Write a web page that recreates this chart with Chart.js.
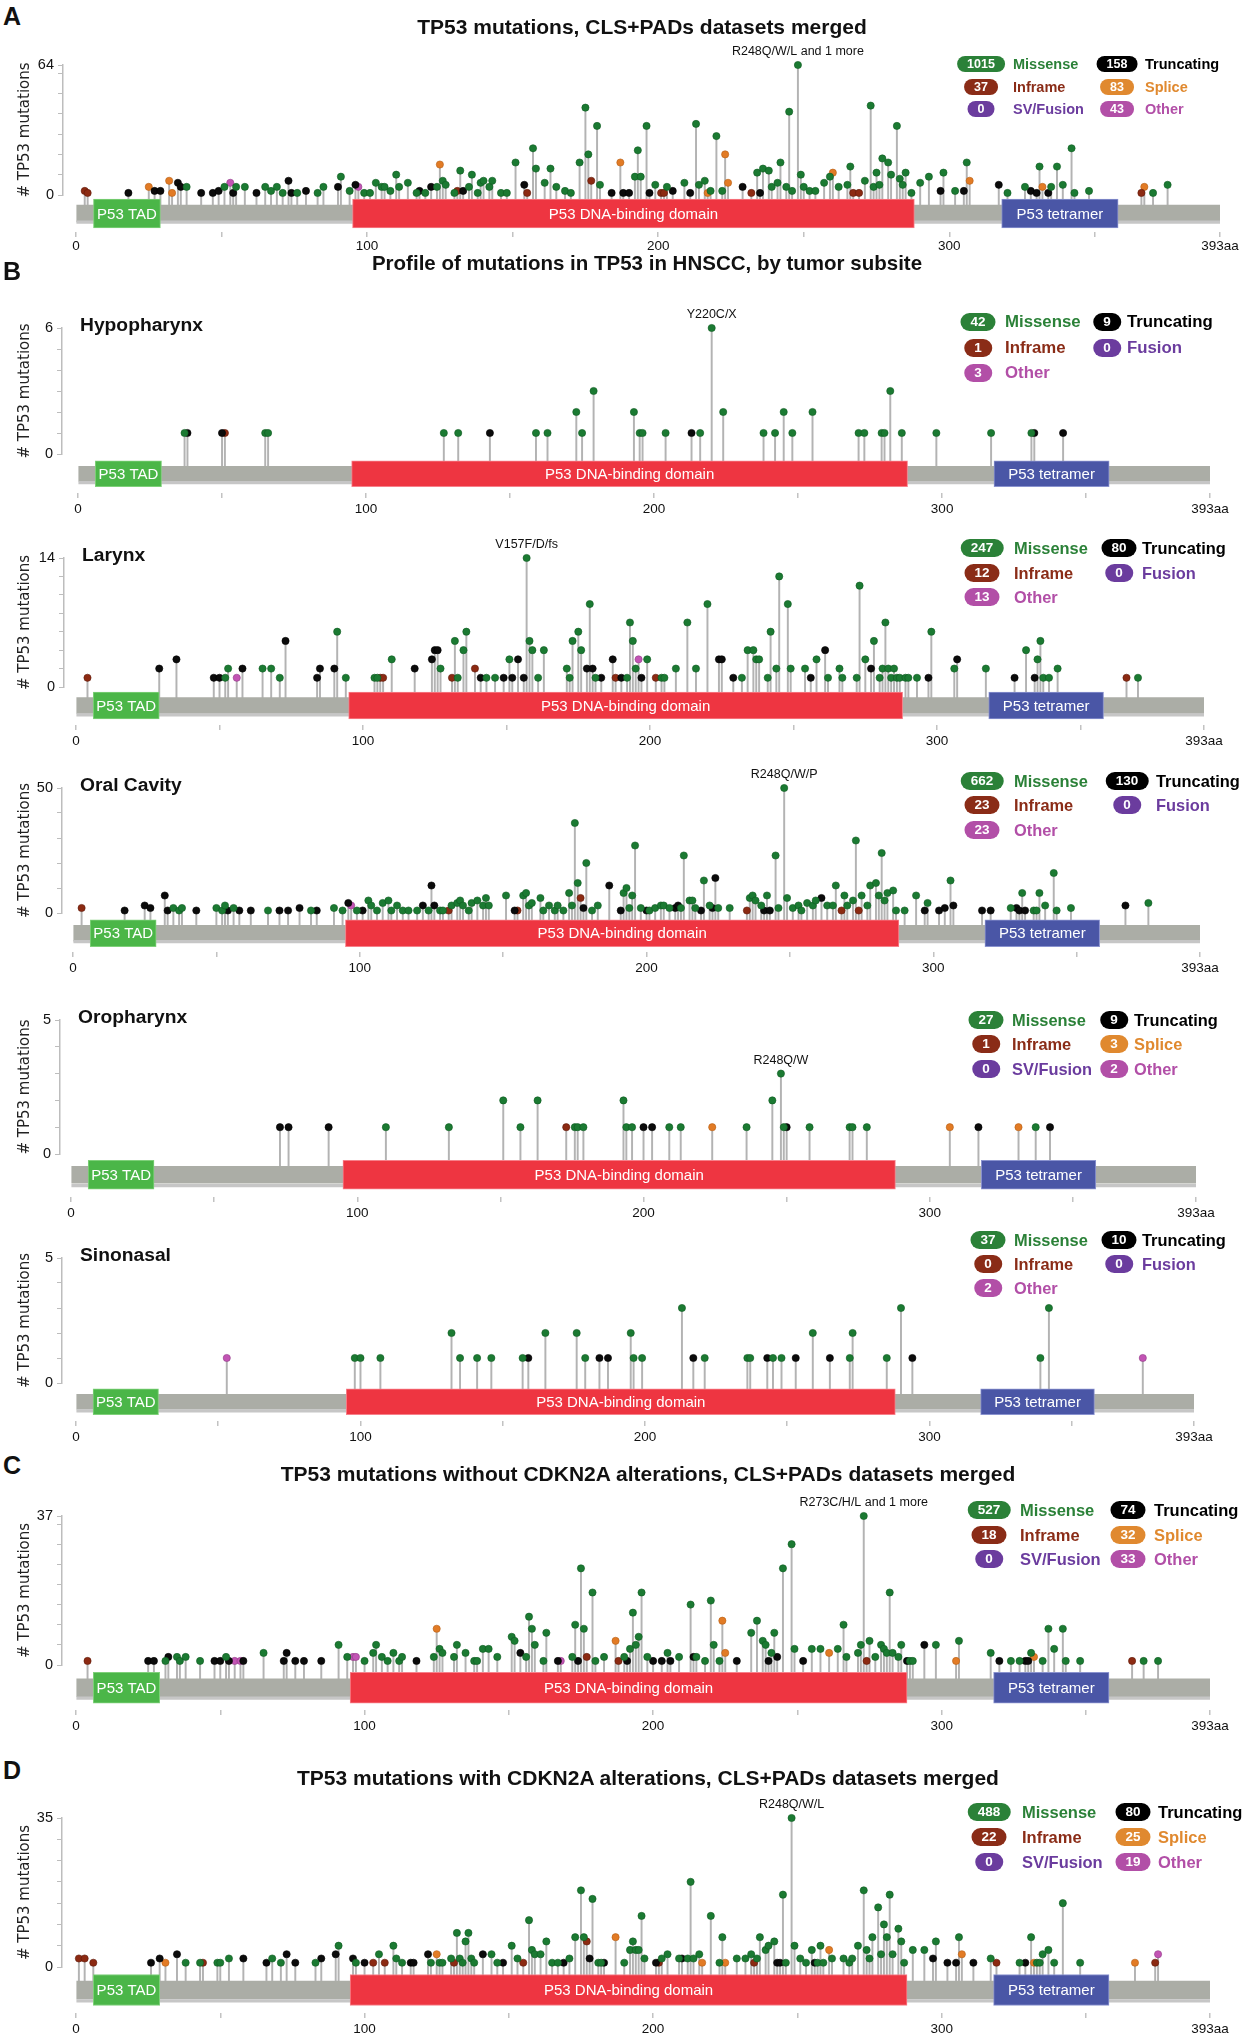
<!DOCTYPE html>
<html>
<head>
<meta charset="utf-8">
<script src="https://cdn.jsdelivr.net/npm/chart.js@4.4.1/dist/chart.umd.min.js"></script>
<style>
  html,body{margin:0;padding:0;background:#fff}
  #fig{position:relative;width:1251px;height:2040px;overflow:hidden;font-family:'Liberation Sans',Arial,Helvetica,sans-serif;color:#111}
  #fig canvas{position:absolute;left:0}
  .tx{position:absolute;white-space:nowrap;z-index:2;line-height:1}
  .pill{position:absolute;z-index:2;color:#fff;font-weight:700;border-radius:999px;text-align:center;transform:translate(-50%,-50%);box-sizing:border-box;padding:0 10px}
</style>
</head>
<body>
<div id="fig"></div>
<script>
// ---------- data ----------
// protein domains: name, start aa, end aa, fill, edge
const domains = [
  ['P53 TAD', 6, 29, '#4bb648', '#7fd07a'],
  ['P53 DNA-binding domain', 95, 288, '#ee3541', '#f7808a'],
  ['P53 tetramer', 318, 358, '#4a56a6', '#8a93cf']
];
const xTicks = [0, 50, 100, 150, 200, 250, 300, 350, 393];

// [position, count, type]  M missense, T truncating, I inframe, S splice, O other
const mutA = [[3,2,'I'],[4,1,'I'],[18,1,'T'],[25,4,'S'],[27,2,'T'],[29,2,'T'],[32,7,'S'],[33,1,'S'],[35,6,'T'],[36,4,'T'],[38,4,'M'],[43,1,'T'],[47,1,'T'],[49,2,'T'],[51,4,'M'],[53,6,'O'],[54,1,'T'],[55,4,'M'],[58,4,'M'],[62,1,'T'],[65,4,'M'],[67,2,'M'],[69,4,'M'],[71,1,'M'],[73,7,'T'],[74,1,'T'],[76,1,'M'],[79,2,'T'],[83,1,'M'],[85,4,'M'],[90,4,'T'],[91,9,'M'],[94,2,'M'],[96,5,'T'],[97,4,'O'],[99,1,'M'],[101,1,'M'],[103,6,'M'],[105,4,'M'],[106,4,'M'],[108,2,'M'],[110,10,'M'],[111,4,'M'],[114,6,'M'],[117,1,'M'],[118,2,'T'],[120,1,'M'],[122,4,'T'],[124,4,'M'],[125,15,'S'],[126,7,'M'],[127,5,'M'],[130,1,'M'],[131,2,'I'],[132,12,'M'],[133,2,'T'],[135,4,'M'],[136,10,'M'],[138,1,'M'],[139,6,'M'],[140,7,'M'],[142,4,'M'],[143,7,'M'],[146,1,'M'],[148,1,'M'],[151,16,'M'],[154,5,'T'],[155,1,'I'],[157,23,'M'],[158,13,'M'],[161,6,'M'],[163,13,'M'],[165,4,'M'],[168,2,'M'],[170,1,'M'],[173,16,'M'],[175,43,'M'],[176,20,'M'],[177,7,'I'],[179,34,'M'],[180,5,'M'],[184,1,'T'],[187,16,'S'],[188,1,'T'],[190,1,'T'],[192,9,'M'],[193,22,'M'],[194,9,'M'],[196,34,'M'],[197,1,'T'],[199,5,'M'],[201,1,'I'],[202,1,'I'],[203,4,'M'],[205,2,'T'],[209,6,'M'],[211,1,'T'],[213,35,'M'],[214,5,'M'],[216,7,'M'],[217,1,'S'],[218,2,'M'],[220,29,'M'],[222,2,'M'],[223,20,'S'],[224,6,'S'],[229,4,'T'],[232,1,'I'],[234,11,'M'],[235,1,'T'],[236,13,'M'],[238,12,'M'],[239,4,'M'],[241,6,'M'],[242,16,'M'],[244,4,'M'],[245,41,'M'],[246,2,'M'],[248,64,'M'],[249,10,'M'],[250,4,'M'],[252,2,'M'],[254,2,'M'],[257,6,'M'],[259,9,'M'],[260,11,'S'],[262,4,'M'],[265,5,'M'],[266,14,'M'],[267,1,'I'],[269,1,'I'],[271,7,'M'],[273,44,'M'],[274,4,'M'],[275,11,'M'],[276,5,'M'],[277,18,'M'],[279,16,'M'],[280,10,'M'],[282,34,'M'],[283,8,'M'],[284,5,'M'],[285,11,'M'],[287,1,'M'],[290,6,'M'],[293,9,'M'],[297,2,'T'],[298,11,'M'],[302,2,'M'],[305,2,'T'],[306,16,'M'],[307,7,'S'],[317,5,'T'],[320,1,'M'],[326,4,'M'],[328,2,'T'],[330,1,'T'],[331,14,'M'],[332,4,'S'],[334,1,'T'],[335,4,'M'],[337,14,'M'],[339,5,'M'],[342,23,'M'],[343,1,'M'],[348,2,'M'],[366,1,'I'],[367,4,'S'],[370,1,'M'],[375,5,'M']];

const mutHypo = [[37,1,'M'],[38,1,'T'],[50,1,'T'],[51,1,'I'],[65,1,'M'],[66,1,'M'],[127,1,'M'],[132,1,'M'],[143,1,'T'],[159,1,'M'],[163,1,'M'],[173,2,'M'],[175,1,'M'],[179,3,'M'],[193,2,'M'],[195,1,'M'],[196,1,'M'],[204,1,'M'],[213,1,'T'],[216,1,'M'],[220,6,'M'],[224,2,'M'],[238,1,'M'],[242,1,'M'],[245,2,'M'],[248,1,'M'],[255,2,'M'],[271,1,'M'],[273,1,'M'],[279,1,'M'],[280,1,'M'],[282,3,'M'],[286,1,'M'],[298,1,'M'],[317,1,'M'],[331,1,'M'],[332,1,'T'],[342,1,'T']];

const mutLarynx = [[4,1,'I'],[29,2,'T'],[35,3,'T'],[48,1,'T'],[50,1,'T'],[52,1,'M'],[53,2,'M'],[56,1,'O'],[58,2,'T'],[65,2,'M'],[68,2,'M'],[71,1,'M'],[73,5,'T'],[84,1,'T'],[85,2,'T'],[90,2,'T'],[91,6,'M'],[94,1,'M'],[104,1,'M'],[105,1,'M'],[106,1,'I'],[107,1,'I'],[110,3,'M'],[118,2,'T'],[124,3,'T'],[125,4,'T'],[126,4,'T'],[127,2,'M'],[131,1,'I'],[132,5,'M'],[133,1,'M'],[135,4,'M'],[136,6,'M'],[139,2,'I'],[141,1,'T'],[143,1,'M'],[146,1,'M'],[149,1,'T'],[151,3,'M'],[152,1,'T'],[154,3,'T'],[156,1,'T'],[157,14,'M'],[158,5,'M'],[159,4,'M'],[161,1,'M'],[163,4,'M'],[171,2,'M'],[172,1,'M'],[173,5,'M'],[175,6,'M'],[176,4,'M'],[178,2,'T'],[179,9,'M'],[180,2,'T'],[181,1,'M'],[183,1,'T'],[187,3,'T'],[188,1,'I'],[190,1,'T'],[192,1,'M'],[193,7,'M'],[194,5,'M'],[195,2,'M'],[196,3,'O'],[197,1,'T'],[199,3,'M'],[202,1,'I'],[204,1,'M'],[205,1,'M'],[209,2,'M'],[213,7,'M'],[216,2,'M'],[220,9,'M'],[224,3,'T'],[225,3,'T'],[229,1,'T'],[232,1,'M'],[234,4,'M'],[236,4,'M'],[237,3,'M'],[238,3,'M'],[241,1,'M'],[242,6,'M'],[244,2,'M'],[245,12,'M'],[248,9,'M'],[249,2,'M'],[254,2,'M'],[256,1,'T'],[258,3,'M'],[261,4,'T'],[262,1,'M'],[266,2,'M'],[267,1,'M'],[272,1,'M'],[273,11,'M'],[275,3,'M'],[277,2,'T'],[278,5,'M'],[280,1,'M'],[281,2,'M'],[282,7,'M'],[283,2,'M'],[284,1,'M'],[285,2,'M'],[286,1,'M'],[287,1,'M'],[289,1,'M'],[290,1,'M'],[293,1,'M'],[297,1,'T'],[298,6,'M'],[306,2,'M'],[307,3,'T'],[317,2,'M'],[327,1,'T'],[331,4,'M'],[334,1,'T'],[335,3,'M'],[336,5,'M'],[337,1,'M'],[339,1,'M'],[342,2,'M'],[366,1,'I'],[370,1,'M']];

const mutOral = [[3,2,'I'],[18,1,'T'],[25,3,'T'],[27,2,'T'],[32,7,'T'],[33,1,'T'],[35,2,'M'],[37,1,'M'],[38,2,'M'],[43,1,'T'],[50,2,'M'],[52,1,'M'],[53,3,'M'],[54,1,'T'],[56,2,'M'],[58,1,'T'],[62,1,'T'],[68,1,'M'],[72,1,'T'],[75,1,'T'],[79,2,'T'],[83,1,'M'],[85,1,'T'],[91,2,'M'],[94,1,'M'],[96,4,'T'],[97,3,'O'],[99,1,'M'],[101,1,'T'],[103,5,'M'],[104,3,'M'],[106,1,'M'],[108,4,'M'],[110,5,'M'],[111,1,'M'],[113,3,'M'],[115,1,'M'],[117,1,'M'],[120,1,'M'],[122,3,'T'],[124,1,'M'],[125,11,'T'],[126,3,'T'],[128,1,'M'],[129,1,'M'],[131,1,'I'],[132,3,'M'],[134,4,'M'],[135,5,'M'],[136,3,'M'],[138,1,'M'],[139,4,'M'],[141,5,'M'],[143,3,'M'],[144,6,'M'],[145,3,'M'],[151,7,'M'],[154,1,'T'],[155,1,'I'],[157,7,'M'],[158,8,'M'],[159,3,'M'],[160,4,'M'],[163,6,'M'],[164,1,'M'],[166,3,'M'],[168,1,'M'],[169,3,'M'],[171,1,'M'],[173,8,'M'],[174,3,'M'],[175,36,'M'],[176,12,'M'],[177,6,'I'],[178,2,'T'],[179,20,'M'],[181,1,'M'],[183,3,'M'],[187,11,'T'],[191,1,'T'],[192,8,'M'],[193,10,'M'],[194,2,'M'],[195,7,'M'],[196,27,'M'],[198,2,'M'],[200,1,'T'],[201,1,'M'],[203,2,'M'],[205,3,'M'],[206,3,'M'],[208,2,'M'],[210,2,'T'],[211,3,'T'],[212,2,'M'],[213,23,'M'],[215,5,'M'],[216,5,'M'],[217,2,'M'],[219,1,'T'],[220,13,'M'],[222,3,'M'],[223,2,'T'],[224,14,'T'],[225,2,'M'],[229,2,'M'],[235,1,'I'],[236,6,'M'],[237,7,'M'],[238,5,'M'],[240,3,'M'],[241,1,'T'],[242,7,'M'],[243,1,'T'],[245,23,'M'],[246,2,'M'],[248,50,'M'],[249,6,'M'],[251,2,'M'],[253,3,'M'],[254,1,'M'],[256,4,'M'],[258,3,'M'],[259,5,'M'],[261,6,'T'],[263,3,'M'],[265,3,'M'],[266,11,'M'],[268,1,'I'],[269,7,'M'],[270,3,'M'],[272,5,'M'],[273,29,'M'],[274,1,'I'],[275,7,'M'],[277,3,'M'],[278,11,'M'],[280,12,'M'],[281,7,'M'],[282,24,'M'],[283,5,'M'],[284,8,'M'],[286,9,'M'],[287,1,'M'],[290,1,'M'],[294,7,'M'],[297,1,'T'],[298,4,'M'],[302,1,'T'],[304,2,'T'],[306,13,'M'],[307,3,'T'],[317,1,'T'],[320,1,'T'],[327,2,'M'],[329,2,'T'],[330,1,'T'],[331,8,'M'],[332,1,'T'],[335,1,'M'],[336,1,'M'],[337,8,'M'],[339,3,'M'],[342,16,'M'],[343,1,'M'],[348,2,'M'],[367,3,'T'],[375,4,'M']];

const mutOro = [[73,1,'T'],[76,1,'T'],[90,1,'T'],[110,1,'M'],[132,1,'M'],[151,2,'M'],[157,1,'M'],[163,2,'M'],[173,1,'I'],[176,1,'M'],[177,1,'M'],[179,1,'M'],[193,2,'M'],[194,1,'M'],[196,1,'M'],[200,1,'T'],[203,1,'T'],[209,1,'M'],[213,1,'M'],[224,1,'S'],[236,1,'M'],[245,2,'M'],[248,3,'M'],[249,1,'M'],[250,1,'T'],[258,1,'M'],[272,1,'M'],[273,1,'M'],[278,1,'M'],[307,1,'S'],[317,1,'T'],[331,1,'S'],[337,1,'M'],[342,1,'T']];

const mutSino = [[53,1,'O'],[98,1,'M'],[100,1,'M'],[107,1,'M'],[132,2,'M'],[135,1,'M'],[141,1,'M'],[146,1,'M'],[157,1,'M'],[159,1,'T'],[165,2,'M'],[176,2,'M'],[179,1,'M'],[184,1,'T'],[187,1,'T'],[195,2,'M'],[196,1,'M'],[199,1,'M'],[213,3,'M'],[217,1,'T'],[221,1,'M'],[236,1,'M'],[237,1,'M'],[243,1,'T'],[245,1,'M'],[248,1,'M'],[253,1,'T'],[259,2,'M'],[265,1,'T'],[272,1,'M'],[273,2,'M'],[285,1,'M'],[290,3,'M'],[294,1,'T'],[339,1,'M'],[342,3,'M'],[375,1,'O']];

const mutC = [[4,1,'I'],[25,1,'T'],[27,1,'T'],[31,1,'M'],[32,2,'T'],[35,2,'M'],[36,1,'M'],[38,2,'M'],[43,1,'M'],[48,1,'T'],[50,1,'T'],[52,2,'M'],[53,1,'T'],[55,1,'O'],[57,1,'O'],[58,1,'T'],[65,3,'M'],[72,1,'T'],[73,3,'T'],[76,1,'T'],[79,1,'T'],[85,1,'T'],[91,5,'M'],[94,2,'M'],[96,2,'O'],[97,2,'O'],[100,1,'M'],[103,3,'M'],[104,5,'M'],[106,2,'M'],[108,1,'M'],[110,3,'M'],[112,1,'M'],[113,2,'M'],[118,1,'T'],[124,2,'M'],[125,9,'S'],[126,4,'M'],[127,3,'M'],[131,2,'M'],[132,5,'M'],[135,3,'M'],[138,1,'M'],[139,1,'M'],[141,4,'M'],[143,4,'M'],[146,2,'M'],[151,7,'M'],[152,6,'M'],[154,3,'T'],[156,2,'M'],[157,12,'M'],[158,9,'M'],[159,5,'M'],[162,1,'M'],[163,8,'M'],[167,1,'T'],[168,1,'O'],[172,2,'M'],[173,10,'M'],[174,1,'T'],[175,24,'M'],[176,9,'M'],[177,2,'I'],[179,18,'M'],[180,1,'M'],[183,2,'M'],[187,6,'S'],[188,1,'I'],[190,2,'M'],[191,1,'T'],[192,4,'M'],[193,13,'M'],[194,5,'M'],[195,7,'M'],[196,18,'M'],[198,2,'M'],[200,1,'T'],[203,1,'T'],[205,3,'M'],[206,1,'T'],[209,2,'M'],[213,15,'M'],[214,2,'T'],[215,2,'M'],[218,1,'M'],[220,16,'M'],[221,5,'M'],[223,1,'M'],[224,11,'S'],[225,3,'S'],[229,1,'T'],[234,8,'M'],[236,11,'M'],[238,6,'M'],[239,5,'M'],[240,1,'T'],[241,3,'M'],[242,8,'M'],[243,2,'T'],[245,24,'M'],[248,30,'M'],[249,4,'M'],[252,1,'T'],[255,4,'M'],[258,4,'M'],[261,3,'S'],[264,4,'M'],[266,10,'M'],[267,2,'M'],[271,3,'M'],[272,5,'M'],[273,37,'M'],[274,1,'I'],[275,6,'M'],[277,2,'M'],[279,5,'M'],[280,4,'M'],[281,3,'M'],[282,18,'M'],[283,3,'M'],[285,2,'M'],[286,5,'M'],[288,1,'T'],[289,1,'M'],[290,1,'M'],[294,5,'T'],[298,5,'M'],[305,1,'S'],[306,6,'M'],[317,3,'M'],[320,1,'T'],[324,1,'M'],[327,1,'M'],[329,1,'T'],[330,1,'T'],[331,3,'M'],[332,2,'S'],[335,1,'M'],[337,9,'M'],[339,4,'M'],[342,9,'M'],[343,1,'M'],[348,1,'M'],[366,1,'I'],[370,1,'M'],[375,1,'M']];

const mutD = [[1,2,'I'],[3,2,'I'],[6,1,'I'],[26,1,'T'],[29,2,'T'],[31,1,'S'],[35,3,'T'],[38,1,'M'],[43,1,'M'],[44,1,'I'],[49,1,'M'],[50,1,'M'],[53,2,'M'],[58,2,'T'],[66,1,'T'],[68,2,'M'],[71,1,'M'],[73,3,'T'],[76,1,'T'],[83,1,'M'],[85,2,'T'],[90,3,'T'],[91,5,'M'],[96,2,'T'],[97,1,'M'],[100,1,'T'],[103,1,'I'],[105,3,'M'],[107,1,'I'],[110,5,'M'],[111,2,'M'],[113,1,'M'],[116,1,'T'],[117,1,'T'],[122,3,'T'],[123,1,'M'],[125,3,'S'],[126,1,'M'],[127,1,'M'],[130,2,'M'],[131,1,'I'],[132,8,'M'],[133,2,'M'],[134,1,'M'],[135,6,'M'],[136,8,'M'],[137,2,'M'],[138,1,'M'],[141,3,'T'],[144,3,'M'],[146,1,'M'],[148,1,'T'],[151,5,'M'],[153,2,'M'],[155,1,'I'],[157,11,'M'],[158,4,'M'],[159,3,'M'],[161,3,'M'],[163,6,'M'],[165,1,'M'],[167,1,'M'],[169,1,'T'],[171,2,'M'],[173,7,'M'],[175,18,'M'],[176,7,'M'],[177,6,'I'],[178,2,'T'],[179,16,'M'],[181,1,'M'],[182,1,'M'],[183,1,'T'],[187,7,'S'],[190,1,'M'],[192,4,'M'],[193,6,'M'],[194,4,'M'],[195,4,'M'],[196,12,'M'],[197,2,'M'],[201,1,'T'],[202,1,'I'],[203,2,'M'],[205,3,'M'],[209,2,'M'],[210,2,'T'],[212,2,'M'],[213,20,'M'],[214,2,'M'],[216,3,'M'],[217,1,'S'],[220,12,'M'],[223,1,'M'],[224,7,'M'],[225,1,'S'],[229,2,'M'],[232,2,'M'],[234,3,'M'],[235,1,'I'],[236,2,'M'],[237,7,'M'],[239,4,'M'],[240,5,'M'],[242,6,'M'],[243,1,'T'],[244,1,'T'],[245,17,'M'],[246,1,'M'],[248,35,'M'],[249,5,'M'],[251,2,'M'],[253,1,'M'],[255,4,'M'],[256,1,'T'],[257,1,'M'],[258,5,'M'],[259,1,'M'],[261,4,'S'],[262,2,'M'],[266,2,'M'],[268,1,'M'],[269,2,'M'],[271,5,'M'],[273,18,'M'],[274,4,'M'],[275,2,'M'],[276,7,'M'],[278,14,'M'],[279,3,'M'],[280,10,'M'],[281,7,'M'],[282,17,'M'],[283,3,'M'],[285,9,'M'],[286,6,'M'],[287,1,'M'],[290,4,'M'],[294,4,'M'],[297,2,'T'],[298,6,'M'],[302,1,'T'],[305,1,'T'],[306,7,'M'],[307,3,'S'],[311,1,'T'],[317,2,'M'],[319,1,'I'],[327,1,'M'],[329,1,'T'],[331,7,'M'],[332,1,'S'],[333,1,'M'],[334,1,'M'],[335,3,'M'],[337,4,'M'],[339,1,'M'],[342,15,'M'],[348,1,'M'],[367,1,'S'],[374,1,'I'],[375,3,'O']];

const panelMuts  = [mutA, mutHypo, mutLarynx, mutOral, mutOro, mutSino, mutC, mutD];
const panelMax   = [64, 6, 14, 50, 5, 5, 37, 35];
const panelStep  = [10, 1, 2, 10, 1, 1, 5, 5];
const panelNames = ['', 'Hypopharynx', 'Larynx', 'Oral Cavity', 'Oropharynx', 'Sinonasal', '', ''];
const peakPos    = [248, 220, 157, 248, 248, null, 273, 248];
const peakText   = ['R248Q/W/L and 1 more', 'Y220C/X', 'V157F/D/fs', 'R248Q/W/P', 'R248Q/W', '', 'R273C/H/L and 1 more', 'R248Q/W/L'];

// legend counts
const labFull = [['Missense','M'],['Truncating','T'],['Inframe','I'],['Splice','S'],['SV/Fusion','F'],['Other','O']];
const labHN   = [['Missense','M'],['Truncating','T'],['Inframe','I'],['Fusion','F'],['Other','O']];
const legA      = [1015, 158, 37, 83, 0, 43];
const legHypo   = [42, 9, 1, 0, 3];
const legLarynx = [247, 80, 12, 0, 13];
const legOral   = [662, 130, 23, 0, 23];
const legOro    = [27, 9, 1, 3, 0, 2];
const legSino   = [37, 10, 0, 0, 2];
const legC      = [527, 74, 18, 32, 0, 33];
const legD      = [488, 80, 22, 25, 0, 19];
const panelLeg  = [legA, legHypo, legLarynx, legOral, legOro, legSino, legC, legD];
const panelLab  = [labFull, labHN, labHN, labHN, labFull, labHN, labFull, labFull];

// ---------- styling / layout ----------
const TYPES = ['M', 'T', 'I', 'S', 'O'];
const dotColor = {M:'#1b7a32', T:'#0b0b0b', I:'#8c2a12', S:'#e27b25', O:'#c254b4'};
const dotEdge  = {M:'#0e5a20', T:'#000', I:'#5e1a0a', S:'#b65e14', O:'#913b87'};
const legColor = {M:'#2b8138', T:'#000', I:'#8a2c17', S:'#e0892f', F:'#6b3c9e', O:'#b24fa7'};

const layout = [
  {left:63, x0:76, x393:1220, yTop:65,   yZero:195,  trackC:213.5, gray:17, dom:29, axisY:232,  tpad:1, leg:{p1:981, l1:1013, p2:1117, l2:1145, rows:[64,86.5,108.5],   fs:14.5, pf:12.5, ph:16}},
  {left:62, x0:78, x393:1210, yTop:328,  yZero:454,  trackC:474,   gray:15, dom:26, axisY:493,  tpad:3, leg:{p1:978, l1:1005, p2:1107, l2:1127, rows:[322,348,373],     fs:16.8, pf:13.5, ph:18}},
  {left:64, x0:76, x393:1204, yTop:558,  yZero:687,  trackC:705,   gray:16, dom:27, axisY:725,  tpad:3, leg:{p1:982, l1:1014, p2:1119, l2:1142, rows:[548,573,597],     fs:16.4, pf:13.5, ph:18}},
  {left:62, x0:73, x393:1200, yTop:788,  yZero:913,  trackC:934,   gray:16, dom:27, axisY:952,  tpad:3, leg:{p1:982, l1:1014, p2:1127, l2:1156, rows:[781,805,830],     fs:16.4, pf:13.5, ph:18}},
  {left:60, x0:71, x393:1196, yTop:1020, yZero:1154, trackC:1174,  gray:17, dom:29, axisY:1197, tpad:3, leg:{p1:986, l1:1012, p2:1114, l2:1134, rows:[1020,1044,1069], fs:16.4, pf:13.5, ph:18}},
  {left:62, x0:76, x393:1194, yTop:1258, yZero:1383, trackC:1401.5,gray:15, dom:26, axisY:1421, tpad:3, leg:{p1:988, l1:1014, p2:1119, l2:1142, rows:[1240,1264,1288], fs:16.4, pf:13.5, ph:18}},
  {left:62, x0:76, x393:1210, yTop:1516, yZero:1665, trackC:1688,  gray:18, dom:31, axisY:1710, tpad:3, leg:{p1:989, l1:1020, p2:1128, l2:1154, rows:[1510,1535,1559], fs:16.5, pf:13.5, ph:18}},
  {left:62, x0:76, x393:1210, yTop:1818, yZero:1967, trackC:1990,  gray:18, dom:31, axisY:2013, tpad:3, leg:{p1:989, l1:1022, p2:1133, l2:1158, rows:[1812,1837,1862], fs:16.5, pf:13.5, ph:18}}
];

Chart.defaults.font.family = "'Liberation Sans', Arial, Helvetica, sans-serif";
const fig = document.getElementById('fig');

function addText(txt, x, y, css) {
  const d = document.createElement('div');
  d.className = 'tx';
  d.textContent = txt;
  d.style.cssText = `left:${x}px;top:${y}px;` + css;
  fig.appendChild(d);
  return d;
}

// titles and panel letters
const bold = 'font-weight:700;';
addText('A', 3, 16, bold + 'font-size:25px;transform:translateY(-50%)');
addText('B', 3, 271, bold + 'font-size:25px;transform:translateY(-50%)');
addText('C', 3, 1465, bold + 'font-size:25px;transform:translateY(-50%)');
addText('D', 3, 1770, bold + 'font-size:25px;transform:translateY(-50%)');
addText('TP53 mutations, CLS+PADs datasets merged', 642, 26, bold + 'font-size:21px;transform:translate(-50%,-50%)');
addText('Profile of mutations in TP53 in HNSCC, by tumor subsite', 647, 263, bold + 'font-size:20.5px;transform:translate(-50%,-50%)');
addText('TP53 mutations without CDKN2A alterations, CLS+PADs datasets merged', 648, 1473, bold + 'font-size:21px;transform:translate(-50%,-50%)');
addText('TP53 mutations with CDKN2A alterations, CLS+PADs datasets merged', 648, 1777, bold + 'font-size:21px;transform:translate(-50%,-50%)');

function addLegend(i) {
  const L = layout[i].leg;
  panelLab[i].forEach(([label, key], k) => {
    const col = k % 2, row = Math.floor(k / 2);
    const y = L.rows[row];
    const pill = document.createElement('div');
    pill.className = 'pill';
    pill.textContent = panelLeg[i][k];
    pill.style.cssText = `left:${col ? L.p2 : L.p1}px;top:${y}px;height:${L.ph}px;line-height:${L.ph}px;min-width:${L.ph + 6}px;font-size:${L.pf}px;background:${legColor[key]}`;
    fig.appendChild(pill);
    addText(label, col ? L.l2 : L.l1, y, bold + `font-size:${L.fs}px;color:${legColor[key]};transform:translateY(-50%)`);
  });
}

function buildPanel(i) {
  const L = layout[i], muts = panelMuts[i], maxY = panelMax[i], step = panelStep[i];
  const top = L.yTop - 34, H = L.axisY + 28 - top;
  const cv = document.createElement('canvas');
  cv.width = 1251; cv.height = H;
  cv.style.top = top + 'px';
  fig.appendChild(cv);

  const ppa = (L.x393 - L.x0) / 393;
  const xMin = -(L.x0 - L.left) / ppa;
  const tMax = L.axisY - L.yZero;
  const trackT = L.axisY - L.trackC;
  const stemBase = -(L.trackC - L.yZero) / (L.yZero - L.yTop) * maxY;
  const yTicks = [];
  for (let v = 0; v < maxY; v += step) yTicks.push(v);
  yTicks.push(maxY);

  let peak = null;
  if (peakPos[i] != null) {
    const hits = muts.filter(m => m[0] === peakPos[i]);
    peak = [peakPos[i], Math.max(...hits.map(m => m[1])), peakText[i]];
  }

  const datasets = [
    {type:'bar', data: muts.map(m => ({x:m[0], y:[stemBase, m[1]]})), backgroundColor:'#b3b3b3',
     barThickness:1.3, grouped:false, order:6, clip:false, xAxisID:'x', yAxisID:'y'},
    {type:'bar', indexAxis:'y', data:[{x:[0,393], y:trackT}], backgroundColor:'#abada6',
     barThickness:L.gray, grouped:false, order:5, xAxisID:'x', yAxisID:'t'},
    {type:'bar', indexAxis:'y', data: domains.map(d => ({x:[d[1], d[2]], y:trackT})),
     backgroundColor: domains.map(d => d[3]), borderColor: domains.map(d => d[4]), borderWidth:1, borderSkipped:false,
     barThickness:L.dom, grouped:false, order:4, xAxisID:'x', yAxisID:'t'},
    {type:'bar', indexAxis:'y', data:[{x:[0,393], y:1.3}], backgroundColor:'#c6c6c6',
     barThickness:2.6, grouped:false, order:4, xAxisID:'x', yAxisID:'t'},
    ...TYPES.map(k => ({type:'scatter', data: muts.filter(m => m[2] === k).map(m => ({x:m[0], y:m[1]})),
      backgroundColor:dotColor[k], borderColor:dotEdge[k], borderWidth:0.6, pointRadius:3.6,
      order:0, clip:false, xAxisID:'x', yAxisID:'y'}))
  ];

  const overlay = {
    id: 'overlay' + i,
    afterDatasetsDraw(chart) {
      const ctx = chart.ctx;
      ctx.save();
      ctx.fillStyle = '#fff';
      ctx.font = "15px 'Liberation Sans', Arial, sans-serif";
      ctx.textAlign = 'center';
      ctx.textBaseline = 'middle';
      chart.getDatasetMeta(2).data.forEach((el, j) => {
        ctx.fillText(domains[j][0], (el.x + el.base) / 2, el.y + 1);
      });
      if (peak) {
        ctx.fillStyle = '#111';
        ctx.font = "12.5px 'Liberation Sans', Arial, sans-serif";
        ctx.textBaseline = 'alphabetic';
        ctx.fillText(peak[2], chart.scales.x.getPixelForValue(peak[0]), chart.scales.y.getPixelForValue(peak[1]) - 10);
      }
      ctx.restore();
    }
  };

  new Chart(cv, {
    type: 'bar',
    data: {datasets},
    options: {
      responsive: false, animation: false, events: [],
      layout: {padding: {top: 34, left: 0, right: 1251 - L.x393, bottom: 0}},
      plugins: {legend: {display: false}, tooltip: {enabled: false}},
      scales: {
        x: {type:'linear', min:xMin, max:393, offset:false,
            afterBuildTicks: s => { s.ticks = xTicks.map(v => ({value:v})); },
            afterFit: s => { s.height = 28; },
            border: {display:false},
            grid: {drawOnChartArea:false, offset:false, tickLength:5, color:'#c2c2c2', lineWidth:1.5},
            ticks: {autoSkip:false, maxRotation:0, padding:L.tpad, color:'#111', font:{size:13.5},
                    callback: v => v === 393 ? '393aa' : (v % 100 === 0 ? String(v) : '')}},
        y: {type:'linear', axis:'y', position:'left', stack:'p', stackWeight:L.yZero - L.yTop, weight:2,
            min:0, max:maxY,
            afterBuildTicks: s => { s.ticks = yTicks.map(v => ({value:v})); },
            afterFit: s => { s.width = L.left; },
            border: {color:'#bdbdbd', width:1.5},
            grid: {drawOnChartArea:false, tickLength:5, color:'#bdbdbd'},
            ticks: {autoSkip:false, padding:4, color:'#111', font:{size:14.5},
                    callback: v => (v === 0 || v === maxY) ? String(v) : ''},
            title: {display:true, text:'# TP53 mutations', color:'#222',
                    font:{family:"'DejaVu Sans', sans-serif", size:15}, padding:{top:16, bottom:0}}},
        t: {type:'linear', axis:'y', position:'left', stack:'p', stackWeight:tMax, weight:1,
            min:0, max:tMax, display:false}
      }
    },
    plugins: [overlay]
  });

  if (panelNames[i]) {
    addText(panelNames[i], L.left + 18, L.yTop - 2, bold + 'font-size:17.5px;transform-origin:0 50%;transform:translateY(-50%) scaleX(1.1)');
  }
  addLegend(i);
}

for (let i = 0; i < layout.length; i++) buildPanel(i);
</script>
</body>
</html>
